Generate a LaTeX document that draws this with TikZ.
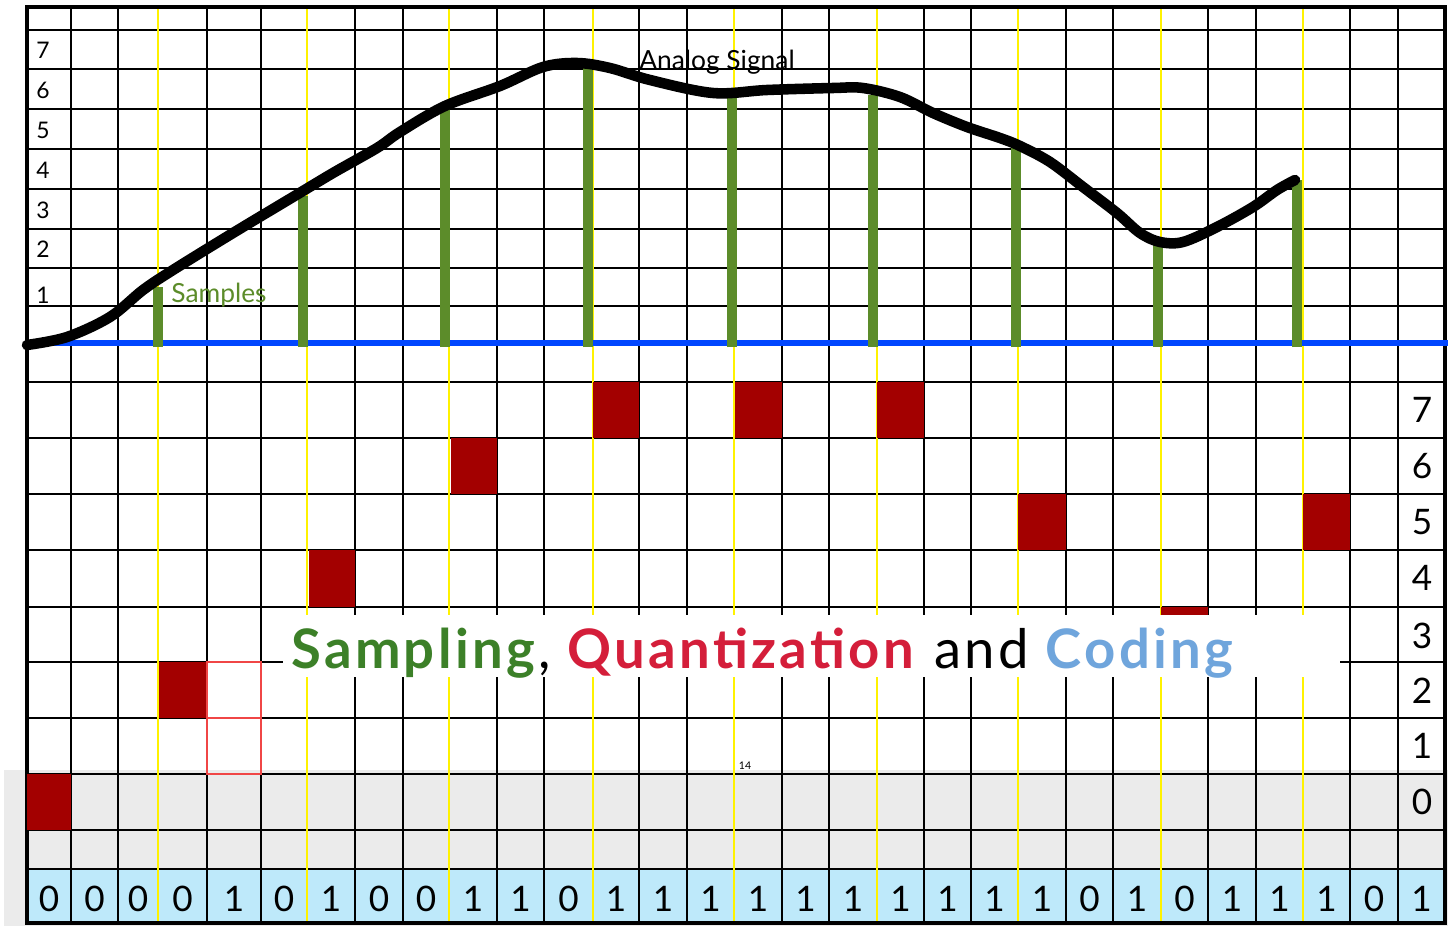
\documentclass[tikz,border=0pt]{standalone}
\usepackage{fontspec}
\setmainfont{Lato}
\newfontfamily\titlefont[LetterSpace=6]{Lato}
\usepackage{tikz}
\definecolor{slidegray}{RGB}{235,235,235}
\definecolor{bitblue}{RGB}{190,233,250}
\definecolor{qred}{RGB}{163,0,0}
\definecolor{qoutline}{RGB}{240,70,70}
\definecolor{signalblue}{RGB}{0,70,255}
\definecolor{samplegreen}{RGB}{92,140,42}
\definecolor{titlegreen}{RGB}{60,128,40}
\definecolor{titlered}{RGB}{212,30,58}
\definecolor{codingblue}{RGB}{111,165,220}

\begin{document}
\begin{tikzpicture}[
    x=0.02cm, y=-0.02cm,
    gridline/.style={line width=1pt, black},
    guide/.style={line width=1.2pt, yellow},
    sample/.style={line width=6pt, samplegreen},
    signal/.style={line width=6pt, black, line cap=round, line join=round},
    level/.style={fill=qred},
    lvlleft/.style={font=\fontsize{13}{15}\selectfont, inner sep=0pt},
    lvlright/.style={font=\fontsize{20}{24}\selectfont, inner sep=0pt},
    bit/.style={font=\fontsize{20}{24}\selectfont, inner sep=0pt},
    caption/.style={font=\fontsize{15}{17}\selectfont, inner sep=0pt}
]
    \useasboundingbox (0,0) rectangle (1448,926);
    \fill[slidegray] (4,770) rectangle (1448,926);
    \fill[bitblue] (27,869) rectangle (1445,923);

    \foreach \y in {30,69,109,149,189,229,268,306,382,438,494,550,607,662,718,774,830,869}
        \draw[gridline] (27,\y) -- (1445,\y);
    \foreach \x in {71,118,207,261,355,403,497,544,639,687,782,829,924,971,1066,1113,1208,1256,1350,1398}
        \draw[gridline] (\x,7) -- (\x,923);
    \foreach \x in {158,307,449,593,734,877,1018,1161,1303}
        \draw[guide] (\x,7) -- (\x,923);
    \draw[line width=2.2pt] (27,7) rectangle (1445,923);

    \foreach \xa/\xb/\ya/\yb in {27/71/774/830, 159/207/662/718, 309/355/550/607, 451/497/438/494,
        593/639/382/438, 735/782/382/438, 877/924/382/438, 1018/1066/494/550, 1161/1208/607/662, 1303/1350/494/550}
        \fill[level] (\xa,\ya) rectangle (\xb,\yb);
    \draw[qoutline, line width=0.9pt] (207,662) rectangle (261,718) (207,718) rectangle (261,774);

    \draw[signalblue, line width=3.5pt] (27,343) -- (1448,343);
    \foreach \x/\top in {158/287, 303/196, 445/107, 588/66, 732/95, 873/95, 1016/147, 1158/244, 1297/180}
        \draw[sample] (\x,347) -- (\x,\top);
    \draw[signal] plot[smooth, tension=0.55] coordinates {(27,345) (67,337) (110,317) (143,290) (173,270)
        (233,233) (293,197) (333,173) (377,148) (400,132) (445,106) (500,86) (543,67) (577,63) (610,68)
        (650,80) (713,93) (767,90) (833,88) (863,88) (900,97) (933,113) (967,127) (1000,138) (1020,146)
        (1050,162) (1083,187) (1117,213) (1140,233) (1160,242) (1183,242) (1217,227) (1253,207) (1277,190) (1295,180)};

    \node[caption, anchor=base] (analog) at (717,70) {Analog Signal};
    \node[caption, text=samplegreen, anchor=base west] (samples) at (171,302) {Samples};

    \foreach \v/\y in {7/50,6/90,5/130,4/170,3/210,2/249,1/295}
        \node[lvlleft] (up\v) at (43,\y) {\v};
    \foreach \v/\y in {7/410,6/466,5/522,4/578,3/636,2/691,1/746,0/802}
        \node[lvlright] (down\v) at (1422,\y) {\v};

    \foreach \xa/\xb/\b [count=\i] in {27/71/0, 71/118/0, 118/158/0, 158/207/0, 207/261/1, 261/307/0,
        307/355/1, 355/403/0, 403/449/0, 449/497/1, 497/544/1, 544/593/0, 593/639/1, 639/687/1, 687/734/1,
        734/782/1, 782/829/1, 829/877/1, 877/924/1, 924/971/1, 971/1018/1, 1018/1066/1, 1066/1113/0,
        1113/1161/1, 1161/1208/0, 1208/1256/1, 1256/1303/1, 1303/1350/1, 1350/1398/0, 1398/1445/1}
        \node[bit] (bit\i) at ({(\xa+\xb)/2},899) {\b};

    \fill[white] (283,615) rectangle (1340,677);
    \node[anchor=base west, inner sep=0pt, font=\titlefont\fontsize{31}{35}\selectfont] (title) at (291,668)
        {\textcolor{titlegreen}{\textbf{Sampling}}, \textcolor{titlered}{\textbf{Quantization}} and \textcolor{codingblue}{\textbf{Coding}}};
    \node[font=\fontsize{6}{7}\selectfont, inner sep=0pt] (page) at (745,766) {14};
\end{tikzpicture}
\end{document}
